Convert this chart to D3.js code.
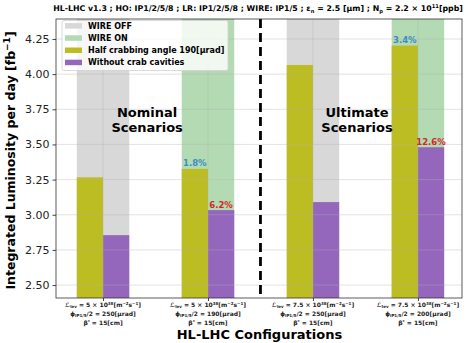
<!DOCTYPE html>
<html>
<head>
<meta charset="utf-8">
<script src="https://cdn.jsdelivr.net/npm/d3@7"></script>
<style>
  body { margin: 0; background: #fff; }
  svg { font-family: "DejaVu Sans", sans-serif; }
</style>
</head>
<body>
<svg width="468" height="343"></svg>
<script>
// groups (x positions are the group index)
const configs = [0, 1, 2, 3];
const lumiLines = ['5', '5', '7.5', '7.5'];
const angleLines = ['250', '190', '250', '200'];
const betaLines = ['15', '15', '15', '15'];
const wireState = ['off', 'on', 'off', 'on'];

// series values [fb^-1]
const halfCrab = [3.266, 3.326, 4.065, 4.203];
const noCrab = [2.855, 3.033, 3.090, 3.480];

// gain annotations
const halfCrabGain = [null, '1.8%', null, '3.4%'];
const noCrabGain = [null, '6.2%', null, '12.6%'];

const yTicks = [2.50, 2.75, 3.00, 3.25, 3.50, 3.75, 4.00, 4.25];

const colors = {
    off: '#d8d8d8',
    on: '#b3dab3',
    half: '#bcbd22',
    none: '#9467bd',
    blue: '#3a8dc6',
    red: '#d62728',
};

const marginLeft = 56;
const marginRight = 6;
const marginTop = 19;
const marginBottom = 45;
const width = 468;
const height = 343;
const barW = 0.25;

const svg = d3.select('svg');

const x = d3.scaleLinear()
    .domain([-0.448, 3.42])
    .range([marginLeft, width - marginRight]);

const y = d3.scaleLinear()
    .domain([2.408, 4.392])
    .range([height - marginBottom, marginTop]);

const plot = svg.append('g');

// background wire bars (full height)
plot.selectAll('rect.bg')
    .data(configs)
    .join('rect')
    .attr('class', 'bg')
    .attr('x', (d) => x(d - barW))
    .attr('width', x(barW * 2) - x(0))
    .attr('y', y(y.domain()[1]))
    .attr('height', y(y.domain()[0]) - y(y.domain()[1]))
    .attr('fill', (d) => colors[wireState[d]]);

// half crabbing bars
plot.selectAll('rect.half')
    .data(configs)
    .join('rect')
    .attr('class', 'half')
    .attr('x', (d) => x(d - barW))
    .attr('width', x(barW) - x(0))
    .attr('y', (d) => y(halfCrab[d]))
    .attr('height', (d) => y(y.domain()[0]) - y(halfCrab[d]))
    .attr('fill', colors.half);

// without crab cavities
plot.selectAll('rect.none')
    .data(configs)
    .join('rect')
    .attr('class', 'none')
    .attr('x', (d) => x(d))
    .attr('width', x(barW) - x(0))
    .attr('y', (d) => y(noCrab[d]))
    .attr('height', (d) => y(y.domain()[0]) - y(noCrab[d]))
    .attr('fill', colors.none);

// grid on top
const grid = svg.append('g')
    .attr('stroke', '#b0b0b0')
    .attr('stroke-opacity', 0.45)
    .attr('stroke-width', 0.8);
grid.selectAll('line.h')
    .data(yTicks)
    .join('line')
    .attr('x1', marginLeft)
    .attr('x2', width - marginRight)
    .attr('y1', (d) => y(d))
    .attr('y2', (d) => y(d));
grid.selectAll('line.v')
    .data(configs)
    .join('line')
    .attr('x1', (d) => x(d))
    .attr('x2', (d) => x(d))
    .attr('y1', marginTop)
    .attr('y2', height - marginBottom);

// separator between nominal and ultimate
svg.append('line')
    .attr('x1', x(1.5))
    .attr('x2', x(1.5))
    .attr('y1', marginTop)
    .attr('y2', height - marginBottom)
    .attr('stroke', '#000')
    .attr('stroke-width', 2.8)
    .attr('stroke-dasharray', '9,5');

// gain labels
svg.selectAll('text.g1')
    .data(configs.filter((d) => halfCrabGain[d]))
    .join('text')
    .attr('x', (d) => x(d - barW / 2))
    .attr('y', (d) => y(halfCrab[d]) - 2.5)
    .attr('text-anchor', 'middle')
    .attr('font-size', 8.5)
    .attr('font-weight', 'bold')
    .attr('fill', colors.blue)
    .text((d) => halfCrabGain[d]);
svg.selectAll('text.g2')
    .data(configs.filter((d) => noCrabGain[d]))
    .join('text')
    .attr('x', (d) => x(d + barW / 2))
    .attr('y', (d) => y(noCrab[d]) - 2.5)
    .attr('text-anchor', 'middle')
    .attr('font-size', 8.5)
    .attr('font-weight', 'bold')
    .attr('fill', colors.red)
    .text((d) => noCrabGain[d]);

// scenario captions
const captions = [
    { at: 0.42, lines: ['Nominal', 'Scenarios'] },
    { at: 2.42, lines: ['Ultimate', 'Scenarios'] },
];
captions.forEach((c) => {
    const t = svg.append('text')
        .attr('x', x(c.at))
        .attr('y', y(3.75) + 8)
        .attr('text-anchor', 'middle')
        .attr('font-size', 13)
        .attr('font-weight', 'bold');
    c.lines.forEach((l, i) => {
        t.append('tspan')
            .attr('x', x(c.at))
            .attr('dy', i === 0 ? 0 : 15)
            .text(l);
    });
});

// y axis
const yAxis = svg.append('g')
    .attr('transform', `translate(${marginLeft},0)`)
    .call(d3.axisLeft(y).tickValues(yTicks).tickFormat(d3.format('.2f')).tickSize(3.5).tickSizeOuter(0));
yAxis.select('.domain').remove();
yAxis.selectAll('text').attr('font-size', 11).attr('font-family', 'DejaVu Sans').attr('fill', '#222');
yAxis.selectAll('line').attr('stroke', '#444');

// x axis
const xAxis = svg.append('g')
    .attr('transform', `translate(0,${height - marginBottom})`)
    .call(d3.axisBottom(x).tickValues(configs).tickFormat('').tickSize(3).tickSizeOuter(0));
xAxis.select('.domain').remove();
xAxis.selectAll('line').attr('stroke', '#444');

// frame
svg.append('rect')
    .attr('x', marginLeft)
    .attr('y', marginTop)
    .attr('width', width - marginLeft - marginRight)
    .attr('height', height - marginTop - marginBottom)
    .attr('fill', 'none')
    .attr('stroke', '#333')
    .attr('stroke-width', 0.8);

// x tick labels (three lines)
const tl = svg.append('g')
    .attr('font-size', 6)
    .attr('font-weight', 'bold')
    .attr('text-anchor', 'middle')
    .attr('fill', '#222');
configs.forEach((d) => {
    const cx = x(d);
    const t1 = tl.append('text').attr('x', cx).attr('y', 307);
    t1.append('tspan').attr('font-style', 'italic').text('ℒ');
    t1.append('tspan').attr('font-size', 4).attr('dy', 1.2).text('lev');
    t1.append('tspan').attr('dy', -1.2).text(` = ${lumiLines[d]} × 10`);
    t1.append('tspan').attr('font-size', 4).attr('dy', -2).text('38');
    t1.append('tspan').attr('dy', 2).text('[m');
    t1.append('tspan').attr('font-size', 4).attr('dy', -2).text('−2');
    t1.append('tspan').attr('dy', 2).text('s');
    t1.append('tspan').attr('font-size', 4).attr('dy', -2).text('−1');
    t1.append('tspan').attr('dy', 2).text(']');

    const t2 = tl.append('text').attr('x', cx).attr('y', 315.5);
    t2.append('tspan').text('ϕ');
    t2.append('tspan').attr('font-size', 4).attr('dy', 1.2).text('IP1/5');
    t2.append('tspan').attr('dy', -1.2).text(`/2 = ${angleLines[d]}[μrad]`);

    const t3 = tl.append('text').attr('x', cx).attr('y', 325);
    t3.append('tspan').text('β');
    t3.append('tspan').attr('font-size', 4).attr('dy', -2).text('*');
    t3.append('tspan').attr('dy', 2).text(` = ${betaLines[d]}[cm]`);
});

// axis titles
svg.append('text')
    .attr('x', x(1.5) - 1)
    .attr('y', 339)
    .attr('text-anchor', 'middle')
    .attr('font-size', 13)
    .attr('font-weight', 'bold')
    .text('HL-LHC Configurations');

const yl = svg.append('text')
    .attr('transform', `translate(15,${(marginTop + height - marginBottom) / 2 + 2}) rotate(-90)`)
    .attr('text-anchor', 'middle')
    .attr('font-size', 12.5)
    .attr('font-weight', 'bold');
yl.append('tspan').text('Integrated Luminosity per day [fb');
yl.append('tspan').attr('font-size', 9).attr('dy', -5).text('−1');
yl.append('tspan').attr('dy', 5).text(']');

// title, shrunk to the width it takes in the original
const title = svg.append('text')
    .attr('x', 258)
    .attr('y', 11)
    .attr('text-anchor', 'middle')
    .attr('font-size', 8.3)
    .attr('font-weight', 'bold');
title.append('tspan').text('HL-LHC v1.3 ; HO: IP1/2/5/8 ; LR: IP1/2/5/8 ; WIRE: IP1/5 ;  ε');
title.append('tspan').attr('font-size', '0.66em').attr('dy', 1.5).text('n');
title.append('tspan').attr('dy', -1.5).text(' = 2.5 [μm] ; N');
title.append('tspan').attr('font-size', '0.66em').attr('dy', 1.5).text('p');
title.append('tspan').attr('dy', -1.5).text(' = 2.2 × 10');
title.append('tspan').attr('font-size', '0.66em').attr('dy', -3).text('11');
title.append('tspan').attr('dy', 3).text('[ppb]');
const tw = title.node().getComputedTextLength();
if (tw > 410) title.attr('font-size', 8.3 * 410 / tw);

// legend
const legendItems = [
    { label: 'WIRE OFF', color: colors.off },
    { label: 'WIRE ON', color: colors.on },
    { label: 'Half crabbing angle 190[μrad]', color: colors.half },
    { label: 'Without crab cavities', color: colors.none },
];
const legend = svg.append('g').attr('transform', 'translate(62,20.5)');
legend.append('rect')
    .attr('width', 166)
    .attr('height', 50)
    .attr('rx', 2)
    .attr('fill', '#fff')
    .attr('fill-opacity', 0.8)
    .attr('stroke', '#d0d0d0')
    .attr('stroke-width', 0.8);
const li = legend.selectAll('g.item')
    .data(legendItems)
    .join('g')
    .attr('transform', (d, i) => `translate(3,${5.3 + i * 12.2})`);
li.append('rect')
    .attr('width', 17)
    .attr('height', 5.5)
    .attr('y', -2.7)
    .attr('fill', (d) => d.color);
li.append('text')
    .attr('x', 23)
    .attr('y', 3)
    .attr('font-size', 8)
    .attr('font-weight', 'bold')
    .text((d) => d.label);
</script>
</body>
</html>
